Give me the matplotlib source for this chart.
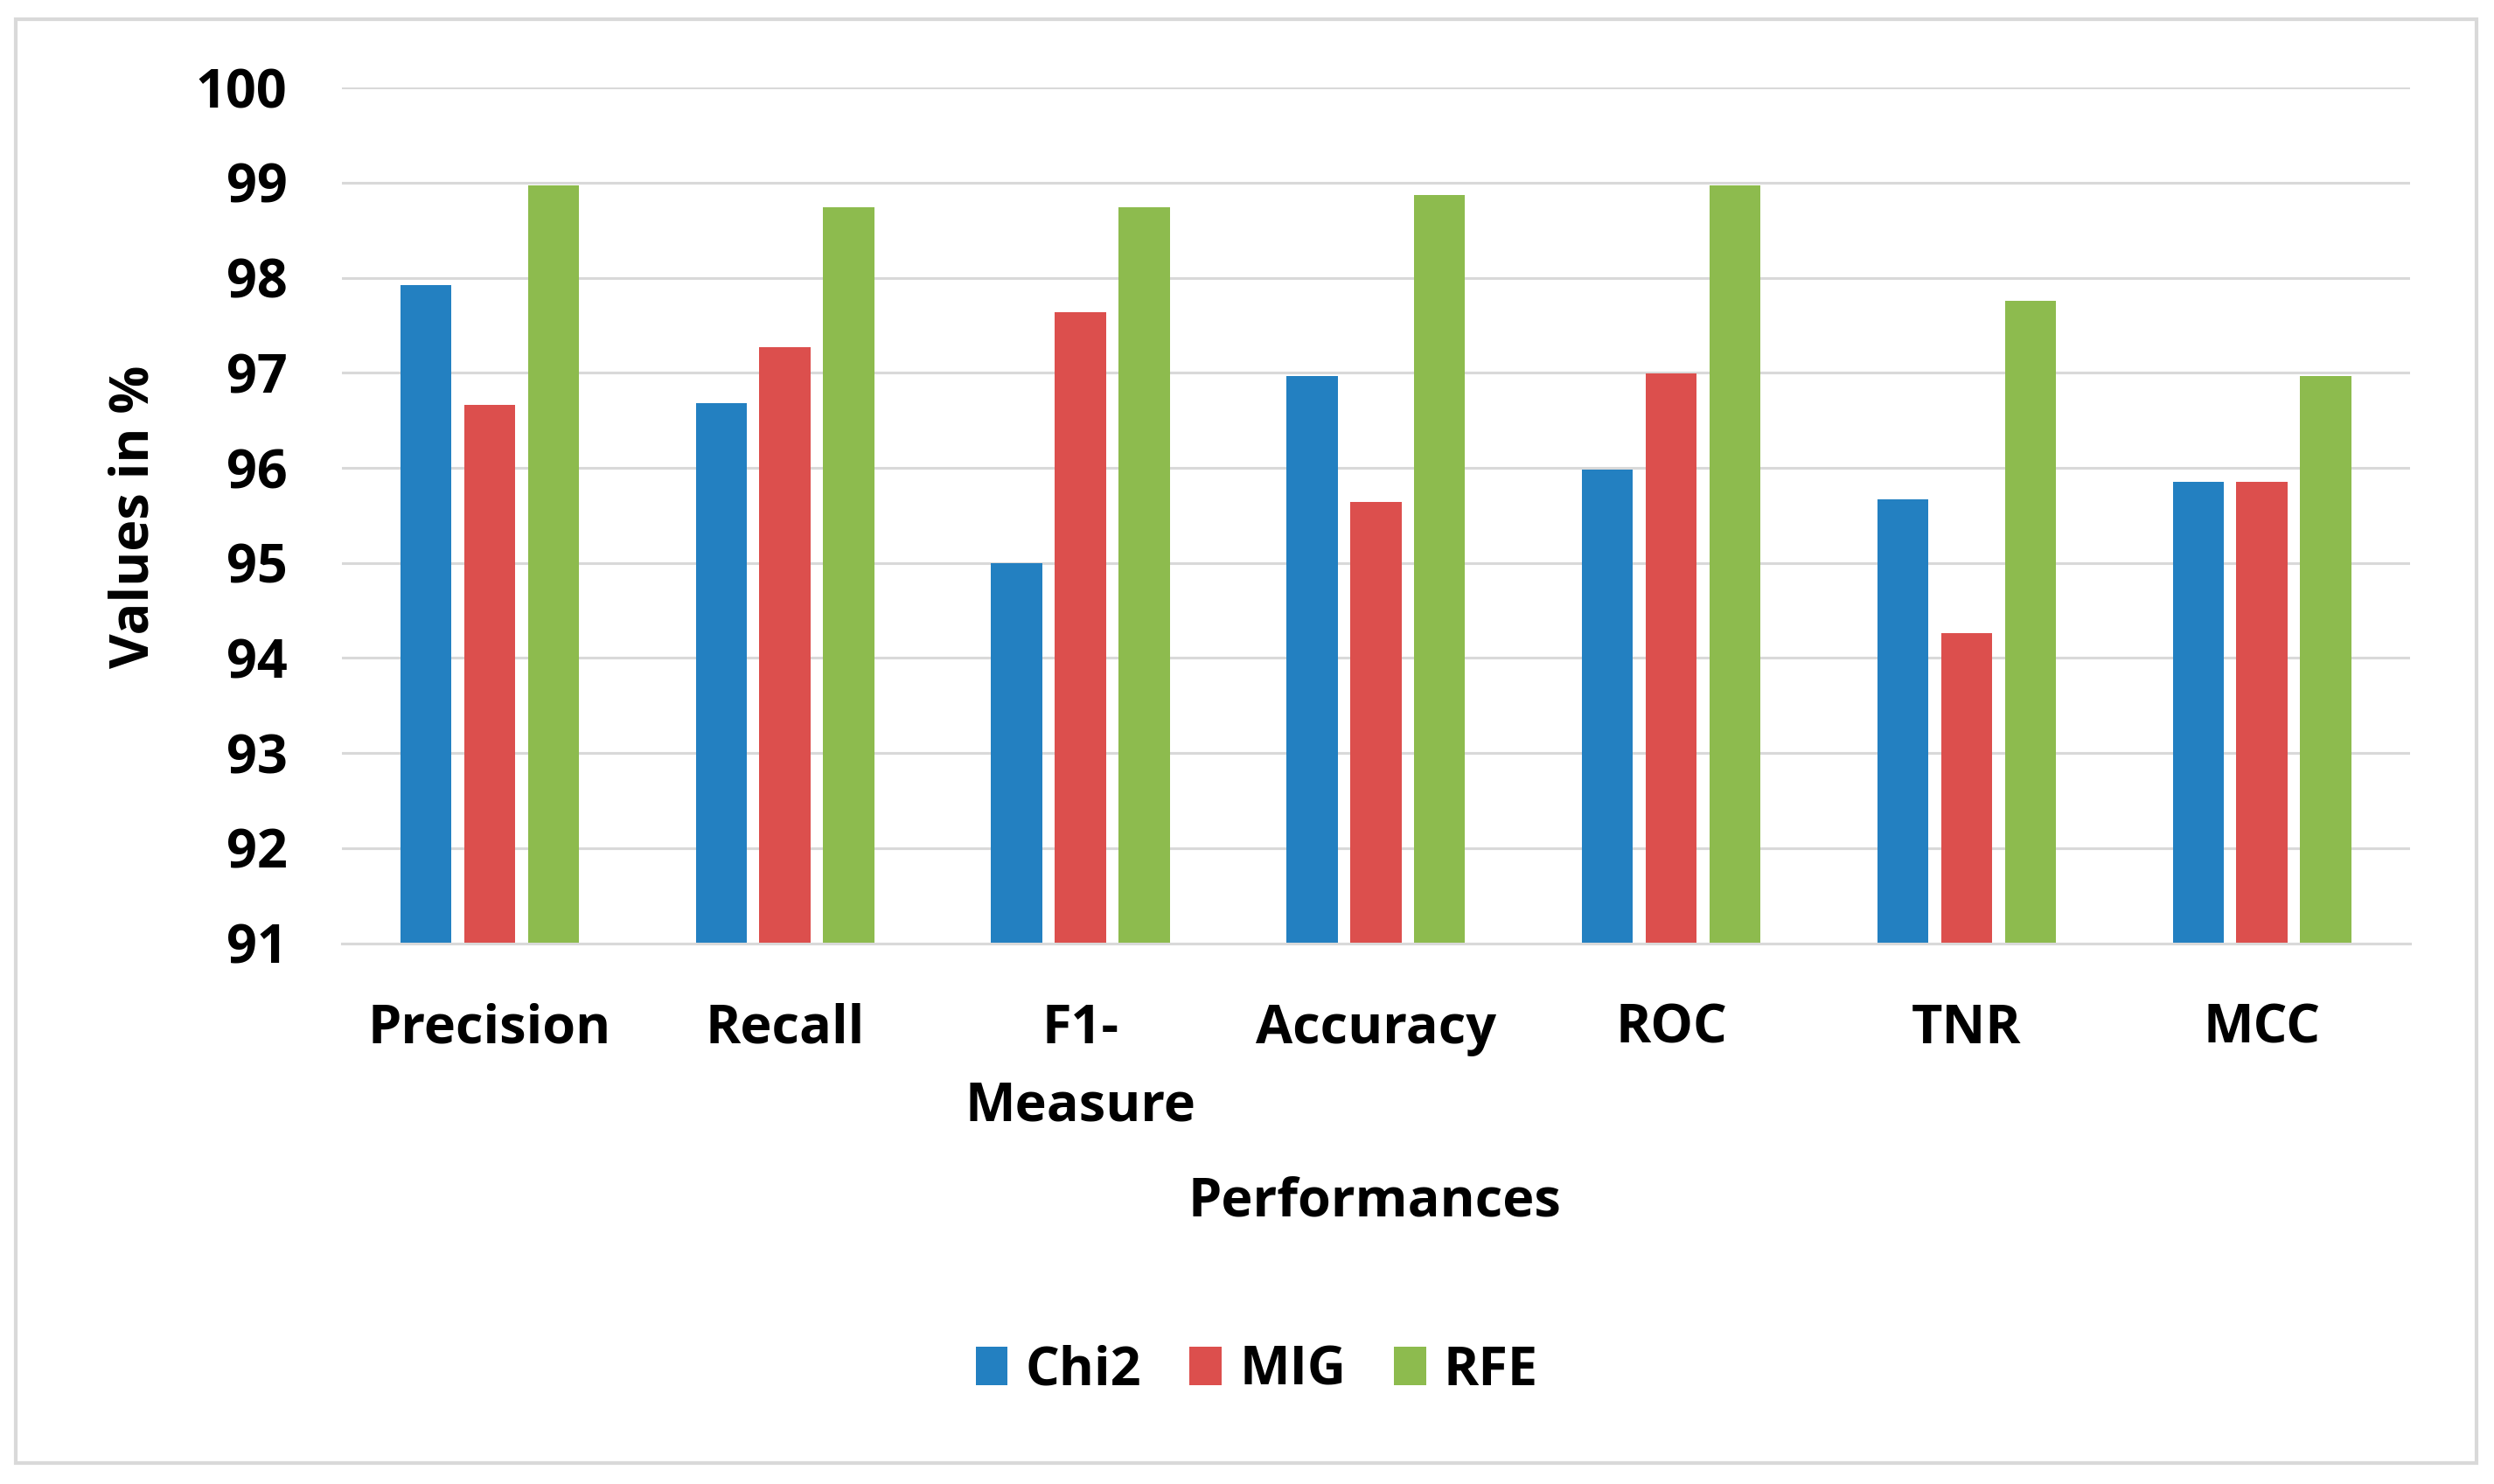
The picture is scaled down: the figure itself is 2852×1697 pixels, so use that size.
import matplotlib
matplotlib.use("Agg")
import matplotlib.pyplot as plt
from matplotlib.patches import Rectangle
import numpy as np

categories = ["Precision", "Recall", "F1-\nMeasure", "Accuracy", "ROC", "TNR", "MCC"]
chi2 = [97.92, 96.68, 95.0, 96.97, 95.98, 95.67, 95.85]
mig = [96.66, 97.27, 97.64, 95.64, 96.99, 94.26, 95.85]
rfe = [98.97, 98.74, 98.74, 98.87, 98.97, 97.76, 96.97]
series_names = ["Chi2", "MIG", "RFE"]
colors = ["#2380C1", "#DC4F4D", "#8DBB4E"]
yticks = [91, 92, 93, 94, 95, 96, 97, 98, 99, 100]

plt.rcParams['font.family'] = ['Open Sans', 'DejaVu Sans']
plt.rcParams['font.weight'] = 'bold'
FS = 44

fig = plt.figure(figsize=(28.52, 16.97), dpi=100)
ax = fig.add_axes([0.1371, 0.3644, 0.9662 - 0.1371, 0.941 - 0.3644])

x = np.arange(len(categories))
w = 0.173
step = 0.216
for i, (vals, name, c) in enumerate(zip([chi2, mig, rfe], series_names, colors)):
    ax.bar(x + (i - 1) * step, np.array(vals) - 91, bottom=91, width=w,
           color=c, label=name, zorder=3)

ax.set_ylim(91, 100)
ax.set_xlim(-0.5, len(categories) - 0.5)
ax.set_yticks(yticks)
ax.set_yticklabels([str(t) for t in yticks], fontsize=FS, fontweight='bold')
ax.set_xticks(x)
ax.set_xticklabels(categories, fontsize=FS, fontweight='bold', linespacing=1.6)
ax.tick_params(axis='both', length=0)
ax.tick_params(axis='y', pad=45)
ax.tick_params(axis='x', pad=49)
ax.grid(axis='y', color='#D9D9D9', linewidth=2.2, zorder=0)
for s in ['top', 'right', 'left']:
    ax.spines[s].set_visible(False)
ax.spines['bottom'].set_color('#D9D9D9')
ax.spines['bottom'].set_linewidth(2.2)
ax.spines['bottom'].set_zorder(4)

fig.text(0.054, 0.652, "Values in %", rotation=90, ha='center', va='center',
         fontsize=FS, fontweight='bold')
fig.text(0.551, 0.190, "Performances", ha='center', va='center',
         fontsize=FS, fontweight='bold')

leg = fig.legend(loc='center', bbox_to_anchor=(0.504, 0.076), ncol=3, frameon=False,
                 fontsize=FS, handlelength=0.6, handleheight=0.72,
                 handletextpad=0.33, columnspacing=0.9)
for t in leg.get_texts():
    t.set_fontweight('bold')

fig.patches.append(Rectangle((0.0064, 0.0139), 0.993 - 0.0064, 0.987 - 0.0139,
                             transform=fig.transFigure, fill=False,
                             edgecolor='#D9D9D9', linewidth=3))

fig.savefig("out.png", dpi=100, facecolor='white')
